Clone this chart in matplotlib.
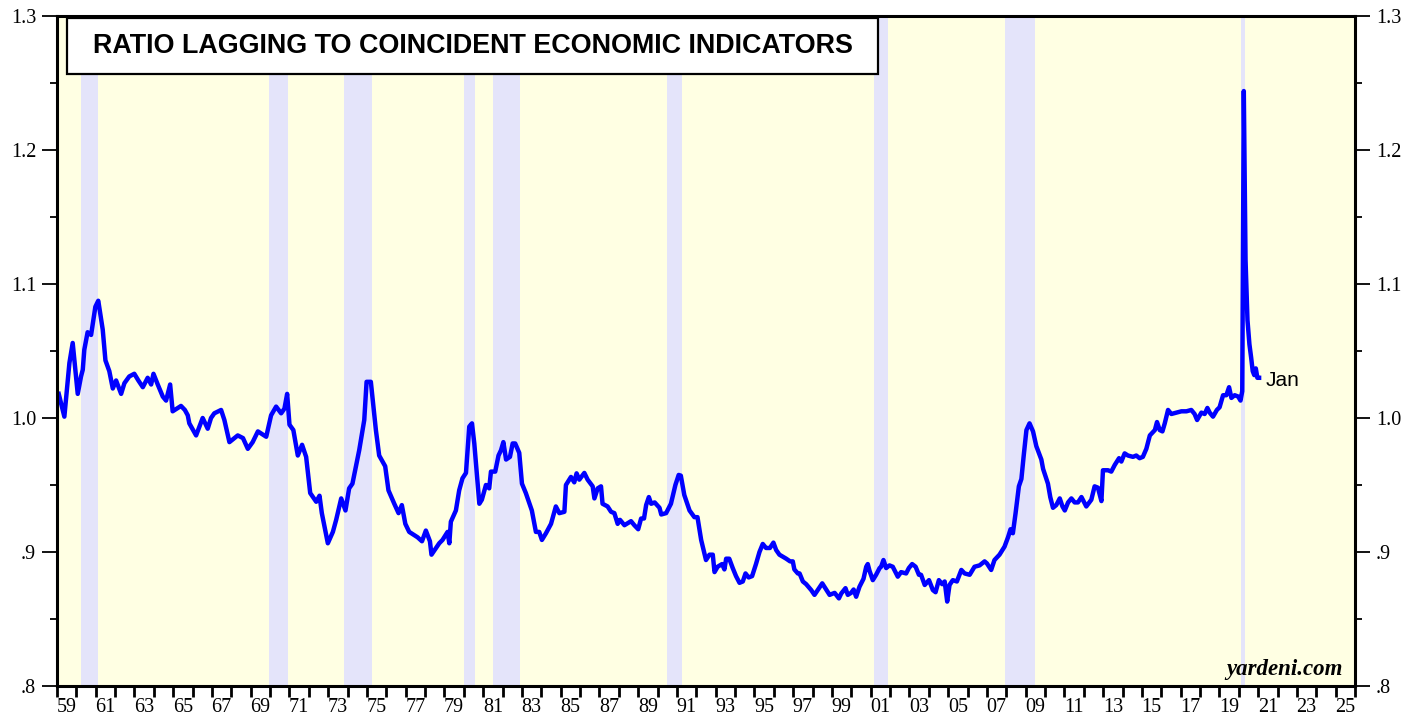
import matplotlib
matplotlib.use("Agg")
import matplotlib.pyplot as plt
from matplotlib.patches import Rectangle
from matplotlib.ticker import FixedLocator, FuncFormatter, NullFormatter

# ---------------- data ----------------
years = [
    1959.09, 1959.38, 1959.64, 1959.81, 1960.07, 1960.24, 1960.33, 1960.41, 1960.58, 1960.76,
    1960.98, 1961.13, 1961.36, 1961.50, 1961.70, 1961.88, 1962.05, 1962.31, 1962.48, 1962.73,
    1962.99, 1963.20, 1963.43, 1963.68, 1963.86, 1963.98, 1964.20, 1964.46, 1964.63, 1964.84,
    1964.97, 1965.40, 1965.60, 1965.75, 1965.83, 1966.18, 1966.52, 1966.78, 1966.95, 1967.12,
    1967.47, 1967.64, 1967.90, 1968.33, 1968.60, 1968.85, 1969.10, 1969.37, 1969.80, 1970.05,
    1970.31, 1970.57, 1970.74, 1970.88, 1971.00, 1971.20, 1971.43, 1971.65, 1971.86, 1972.07,
    1972.38, 1972.55, 1972.67, 1972.98, 1973.24, 1973.41, 1973.67, 1973.89, 1974.08, 1974.25,
    1974.60, 1974.86, 1974.98, 1975.20, 1975.46, 1975.63, 1975.94, 1976.11, 1976.41, 1976.63,
    1976.80, 1976.98, 1977.18, 1977.61, 1977.84, 1978.04, 1978.25, 1978.33, 1978.73, 1978.90,
    1979.16, 1979.25, 1979.33, 1979.59, 1979.76, 1979.93, 1980.11, 1980.28, 1980.42, 1980.54,
    1980.80, 1980.93, 1981.14, 1981.31, 1981.40, 1981.62, 1981.79, 1981.92, 1982.04, 1982.18,
    1982.38, 1982.52, 1982.65, 1982.86, 1983.00, 1983.20, 1983.51, 1983.72, 1983.89, 1984.03,
    1984.24, 1984.50, 1984.75, 1984.93, 1985.19, 1985.27, 1985.53, 1985.70, 1985.82, 1985.96,
    1986.22, 1986.39, 1986.65, 1986.74, 1986.91, 1987.08, 1987.16, 1987.42, 1987.60, 1987.77,
    1987.94, 1988.06, 1988.29, 1988.63, 1988.80, 1989.00, 1989.15, 1989.30, 1989.41, 1989.55,
    1989.67, 1989.85, 1990.10, 1990.19, 1990.44, 1990.69, 1990.92, 1991.09, 1991.20, 1991.38,
    1991.65, 1991.90, 1992.06, 1992.25, 1992.50, 1992.68, 1992.85, 1992.94, 1993.10, 1993.33,
    1993.45, 1993.54, 1993.70, 1993.88, 1994.05, 1994.23, 1994.40, 1994.54, 1994.70, 1994.88,
    1995.08, 1995.26, 1995.43, 1995.60, 1995.80, 1995.98, 1996.12, 1996.29, 1996.46, 1996.64,
    1996.84, 1996.98, 1997.06, 1997.24, 1997.33, 1997.50, 1997.67, 1997.93, 1998.10, 1998.27,
    1998.50, 1998.70, 1998.88, 1999.14, 1999.36, 1999.48, 1999.70, 1999.82, 1999.99, 2000.12,
    2000.25, 2000.42, 2000.63, 2000.77, 2000.85, 2000.94, 2001.11, 2001.28, 2001.46, 2001.54,
    2001.66, 2001.80, 2001.97, 2002.14, 2002.40, 2002.57, 2002.83, 2002.97, 2003.14, 2003.32,
    2003.49, 2003.60, 2003.79, 2004.01, 2004.21, 2004.35, 2004.52, 2004.69, 2004.82, 2004.95,
    2005.07, 2005.24, 2005.45, 2005.68, 2005.85, 2006.11, 2006.36, 2006.62, 2006.88, 2007.00,
    2007.22, 2007.39, 2007.65, 2007.91, 2008.09, 2008.22, 2008.34, 2008.48, 2008.65, 2008.78,
    2008.90, 2009.04, 2009.20, 2009.38, 2009.55, 2009.81, 2009.90, 2010.15, 2010.27, 2010.41,
    2010.58, 2010.76, 2010.90, 2011.02, 2011.19, 2011.36, 2011.53, 2011.70, 2011.88, 2012.13,
    2012.39, 2012.56, 2012.73, 2012.91, 2012.99, 2013.25, 2013.42, 2013.60, 2013.82, 2013.94,
    2014.11, 2014.28, 2014.54, 2014.71, 2014.88, 2015.05, 2015.23, 2015.41, 2015.67, 2015.78,
    2015.92, 2016.06, 2016.18, 2016.35, 2016.52, 2016.78, 2017.04, 2017.30, 2017.55, 2017.72,
    2017.85, 2018.07, 2018.24, 2018.38, 2018.50, 2018.67, 2018.87, 2019.01, 2019.19, 2019.36,
    2019.50, 2019.62, 2019.79, 2019.97, 2020.09, 2020.18, 2020.26, 2020.35, 2020.45, 2020.55,
    2020.64, 2020.72, 2020.80, 2020.88, 2020.96, 2021.05,
]
ratio = [
    1.018, 1.001, 1.041, 1.056, 1.018, 1.031, 1.036, 1.051, 1.064, 1.062,
    1.083, 1.0875, 1.066, 1.043, 1.035, 1.022, 1.028, 1.018, 1.026, 1.031,
    1.033, 1.028, 1.023, 1.030, 1.025, 1.033, 1.025, 1.016, 1.013, 1.025,
    1.005, 1.009, 1.006, 1.002, 0.996, 0.987, 1.000, 0.992, 1.000, 1.0035,
    1.006, 0.9985, 0.982, 0.987, 0.985, 0.977, 0.982, 0.990, 0.986, 1.002,
    1.0085, 1.0035, 1.007, 1.018, 0.995, 0.991, 0.972, 0.980, 0.971, 0.944,
    0.9375, 0.942, 0.929, 0.9065, 0.915, 0.924, 0.940, 0.931, 0.9475, 0.951,
    0.976, 0.9985, 1.027, 1.027, 0.991, 0.972, 0.964, 0.946, 0.936, 0.929,
    0.935, 0.921, 0.915, 0.911, 0.908, 0.916, 0.908, 0.898, 0.9065, 0.909,
    0.915, 0.9065, 0.9226, 0.931, 0.946, 0.955, 0.959, 0.9936, 0.996, 0.981,
    0.936, 0.939, 0.950, 0.9475, 0.960, 0.960, 0.972, 0.976, 0.982, 0.969,
    0.971, 0.981, 0.981, 0.974, 0.951, 0.944, 0.931, 0.915, 0.915, 0.909,
    0.914, 0.921, 0.934, 0.929, 0.930, 0.950, 0.956, 0.952, 0.9587, 0.954,
    0.959, 0.954, 0.949, 0.940, 0.9475, 0.949, 0.936, 0.934, 0.930, 0.929,
    0.921, 0.924, 0.920, 0.923, 0.920, 0.917, 0.925, 0.925, 0.935, 0.941,
    0.936, 0.937, 0.933, 0.928, 0.929, 0.936, 0.950, 0.9575, 0.957, 0.9425,
    0.931, 0.926, 0.926, 0.909, 0.894, 0.898, 0.898, 0.885, 0.889, 0.891,
    0.887, 0.895, 0.895, 0.888, 0.882, 0.877, 0.878, 0.884, 0.881, 0.882,
    0.891, 0.900, 0.906, 0.903, 0.903, 0.907, 0.9015, 0.898, 0.8965, 0.895,
    0.893, 0.893, 0.887, 0.884, 0.884, 0.878, 0.876, 0.8716, 0.868, 0.8716,
    0.8766, 0.872, 0.868, 0.8695, 0.8654, 0.869, 0.873, 0.868, 0.8695, 0.872,
    0.8666, 0.874, 0.880, 0.889, 0.891, 0.886, 0.879, 0.883, 0.888, 0.889,
    0.894, 0.888, 0.890, 0.889, 0.8816, 0.885, 0.884, 0.888, 0.891, 0.889,
    0.883, 0.883, 0.8754, 0.879, 0.8716, 0.870, 0.879, 0.876, 0.878, 0.863,
    0.8754, 0.879, 0.878, 0.8866, 0.884, 0.883, 0.889, 0.890, 0.893, 0.8915,
    0.8866, 0.894, 0.898, 0.904, 0.911, 0.917, 0.914, 0.929, 0.949, 0.9545,
    0.972, 0.991, 0.996, 0.990, 0.979, 0.969, 0.962, 0.951, 0.941, 0.933,
    0.935, 0.940, 0.934, 0.931, 0.937, 0.940, 0.937, 0.937, 0.941, 0.934,
    0.939, 0.949, 0.948, 0.938, 0.961, 0.961, 0.960, 0.965, 0.970, 0.9675,
    0.9736, 0.972, 0.971, 0.972, 0.970, 0.971, 0.977, 0.987, 0.991, 0.997,
    0.991, 0.990, 0.996, 1.006, 1.003, 1.004, 1.005, 1.005, 1.006, 1.003,
    0.9985, 1.004, 1.003, 1.0075, 1.004, 1.001, 1.006, 1.008, 1.017, 1.017,
    1.023, 1.015, 1.017, 1.016, 1.013, 1.020, 1.244, 1.118, 1.073, 1.055,
    1.045, 1.035, 1.032, 1.037, 1.030, 1.030,
]

# NBER recessions (decimal years)
rec_start = [1960.25, 1969.92, 1973.83, 1980.00, 1981.50, 1990.50, 2001.17, 2007.92, 2020.09]
rec_end   = [1961.12, 1970.92, 1975.25, 1980.58, 1982.92, 1991.25, 2001.92, 2009.50, 2020.34]

y_ticks = [0.8, 0.9, 1.0, 1.1, 1.2, 1.3]
y_minor = [0.85, 0.95, 1.05, 1.15, 1.25]
year_ticks = list(range(1959, 2027))
year_labels = [f"{y % 100:02d}" for y in range(1959, 2026, 2)]

title_text = "RATIO LAGGING TO COINCIDENT ECONOMIC INDICATORS"
last_label = "Jan"
source = "yardeni.com"

# ---------------- drawing ----------------
serif = ["Liberation Serif", "DejaVu Serif"]
sans = ["Liberation Sans", "DejaVu Sans"]

fig = plt.figure(figsize=(14.24, 7.19), dpi=100)
ax = fig.add_axes([57 / 1424, 33 / 719, 1298 / 1424, 670 / 719])
ax.set_facecolor("#FFFFE3")

for s, e in zip(rec_start, rec_end):
    ax.axvspan(s, e, color="#E4E4FA", lw=0, zorder=1)

ax.plot(years, ratio, color="#0000FF", lw=3.2, zorder=3, solid_joinstyle="round")

ax.set_xlim(1959, 2026)
ax.set_ylim(0.8, 1.3)

# y axis
ax.yaxis.set_major_locator(FixedLocator(y_ticks))
ax.yaxis.set_minor_locator(FixedLocator(y_minor))
fmt = FuncFormatter(lambda v, p: (f"{v:.1f}").lstrip("0") if v < 1 else f"{v:.1f}")
ax.yaxis.set_major_formatter(fmt)
ax.tick_params(axis="y", which="major", direction="out", length=11, width=1.3,
               left=True, right=True, labelleft=True, labelright=True, pad=4)
ax.tick_params(axis="y", which="minor", direction="out", length=5, width=1.3,
               left=True, right=True)

# x axis: year ticks, labels centred mid-year on odd years
ax.xaxis.set_major_locator(FixedLocator(year_ticks))
ax.xaxis.set_major_formatter(NullFormatter())
ax.xaxis.set_minor_locator(FixedLocator([y + 0.5 for y in range(1959, 2026, 2)]))
ax.set_xticklabels(year_labels, minor=True)
ax.tick_params(axis="x", which="major", direction="out", length=8, width=2.0)
ax.tick_params(axis="x", which="minor", length=0, pad=9)

for lab in ax.get_yticklabels() + ax.get_xticklabels(minor=True):
    lab.set_fontfamily(serif)
    lab.set_fontsize(14.5)

for sp in ax.spines.values():
    sp.set_linewidth(2.2)
    sp.set_zorder(5)

# title box
ax.add_patch(Rectangle((0.0077, 0.913), 0.6248, 0.084, transform=ax.transAxes,
                       facecolor="white", edgecolor="black", lw=1.6, zorder=6))
ax.text(0.3201, 0.955, title_text, transform=ax.transAxes, ha="center", va="center",
        fontsize=19.4, fontweight="bold", family=sans, zorder=7)

# end label
ax.text(years[-1] + 0.35, ratio[-1] - 0.002, last_label, ha="left", va="center",
        fontsize=15, family=sans, zorder=7)

# source
ax.text(0.9908, 0.009, source, transform=ax.transAxes, ha="right", va="bottom",
        fontsize=16.5, fontweight="bold", fontstyle="italic", family=serif, zorder=7)

fig.savefig("out.png", dpi=100)
